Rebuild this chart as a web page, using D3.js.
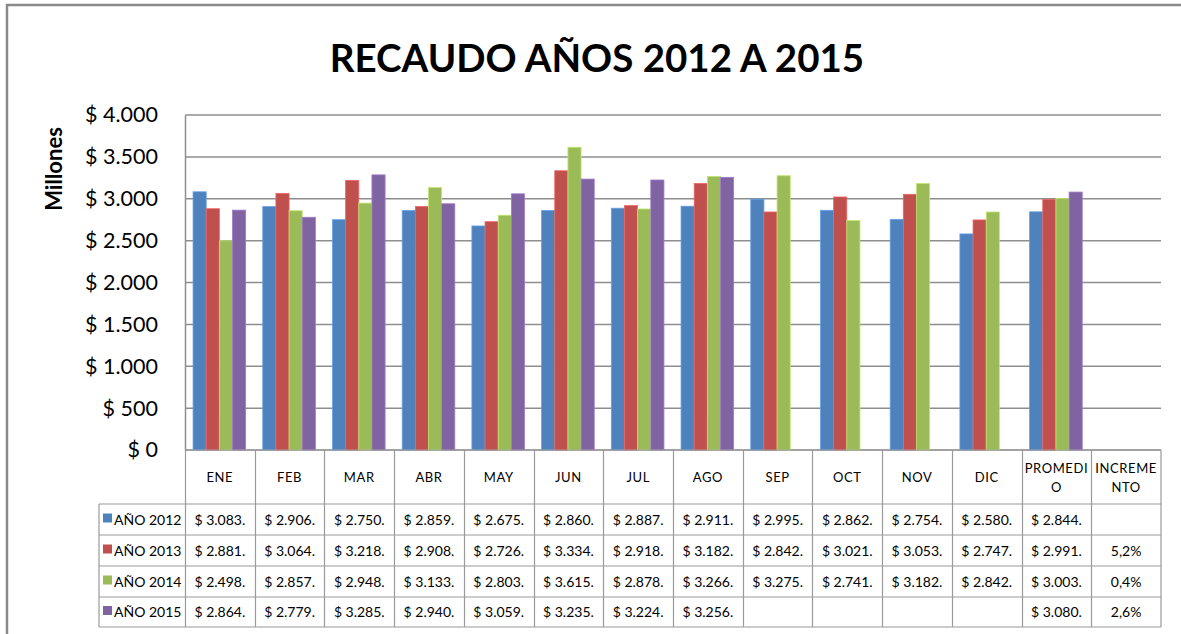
<!DOCTYPE html>
<html>
<head>
<meta charset="utf-8">
<script src="https://cdn.jsdelivr.net/npm/d3@7"></script>
<style>
  body { margin: 0; background: #fff; }
  text { font-family: Lato, 'Open Sans', sans-serif; fill: #000; }
</style>
</head>
<body>
<script>
// chart data (millones)
var categories = ['ENE', 'FEB', 'MAR', 'ABR', 'MAY', 'JUN', 'JUL', 'AGO', 'SEP', 'OCT', 'NOV', 'DIC', 'PROMEDIO', 'INCREMENTO'];
var headerLines = [['ENE'], ['FEB'], ['MAR'], ['ABR'], ['MAY'], ['JUN'], ['JUL'], ['AGO'], ['SEP'], ['OCT'], ['NOV'], ['DIC'], ['PROMEDI', 'O'], ['INCREME', 'NTO']];
var seriesNames = ['AÑO 2012', 'AÑO 2013', 'AÑO 2014', 'AÑO 2015'];
var colors = ['#4f81bd', '#c0504d', '#9bbb59', '#8064a2'];
var y2012 = [3083, 2906, 2750, 2859, 2675, 2860, 2887, 2911, 2995, 2862, 2754, 2580, 2844, null];
var y2013 = [2881, 3064, 3218, 2908, 2726, 3334, 2918, 3182, 2842, 3021, 3053, 2747, 2991, null];
var y2014 = [2498, 2857, 2948, 3133, 2803, 3615, 2878, 3266, 3275, 2741, 3182, 2842, 3003, null];
var y2015 = [2864, 2779, 3285, 2940, 3059, 3235, 3224, 3256, null, null, null, null, 3080, null];
var incremento = ['', '5,2%', '0,4%', '2,6%'];
var yTicks = [0, 500, 1000, 1500, 2000, 2500, 3000, 3500, 4000];

var series = [y2012, y2013, y2014, y2015];

var W = 1181, H = 634;
var svg = d3.select('body').append('svg').attr('width', W).attr('height', H);

// outer frame
svg.append('rect')
  .attr('x', 7).attr('y', 5)
  .attr('width', 1200).attr('height', 700)
  .attr('fill', '#fff')
  .attr('stroke', '#8a8a8a')
  .attr('stroke-width', 2.5);

var plotL = 185, plotR = 1161, plotT = 115, plotB = 450;

var x = d3.scaleBand().domain(categories).range([plotL, plotR]);
var xs = d3.scaleBand().domain(d3.range(4)).range([0, x.bandwidth()]).paddingOuter(0.65);
var y = d3.scaleLinear().domain([0, 4000]).range([plotB, plotT]);

var loc = d3.formatLocale({ decimal: ',', thousands: '.', grouping: [3], currency: ['$ ', ''] });
var fmt = loc.format('$,.0f');

// gridlines
svg.append('g')
  .selectAll('line')
  .data(yTicks)
  .enter()
  .append('line')
  .attr('x1', plotL).attr('x2', plotR)
  .attr('y1', function (d) { return y(d); })
  .attr('y2', function (d) { return y(d); })
  .attr('stroke', '#8e8e8e')
  .attr('stroke-width', 1.5);

// y axis
var yAxis = svg.append('g')
  .attr('transform', 'translate(' + plotL + ',0)')
  .call(d3.axisLeft(y).tickValues(yTicks).tickSize(0).tickPadding(27).tickFormat(fmt));
yAxis.select('.domain').attr('stroke', '#8e8e8e').attr('stroke-width', 1.5);
yAxis.selectAll('text')
  .style('font-family', 'Lato, sans-serif')
  .style('font-size', '21.5px')
  .attr('fill', '#000');

svg.append('text')
  .attr('transform', 'translate(62,169) rotate(-90)')
  .attr('text-anchor', 'middle')
  .style('font-size', '22px')
  .style('font-weight', 'bold')
  .text('Millones');

// title
svg.append('text')
  .attr('x', 597).attr('y', 72)
  .attr('text-anchor', 'middle')
  .style('font-size', '38.5px')
  .style('font-weight', 'bold')
  .text('RECAUDO AÑOS 2012 A 2015');

// bars
series.forEach(function (vals, si) {
  svg.append('g')
    .selectAll('rect')
    .data(categories.map(function (c, i) { return { c: c, v: vals[i] }; })
      .filter(function (d) { return d.v != null; }))
    .enter()
    .append('rect')
    .attr('x', function (d) { return x(d.c) + xs(si) - 0.5; })
    .attr('width', xs.bandwidth())
    .attr('y', function (d) { return y(d.v); })
    .attr('height', function (d) { return plotB - y(d.v); })
    .attr('fill', colors[si])
    .attr('stroke', d3.color(colors[si]).brighter(0.6))
    .attr('stroke-width', 0.8);
});

// data table
var rowH = [54, 31, 31, 31, 30];
var rowY = [plotB];
rowH.forEach(function (h, i) { rowY.push(rowY[i] + h); });
var legendLeft = 99;
var lineColor = '#9a9a9a';
var tbl = svg.append('g');

// horizontal lines
tbl.append('line').attr('x1', plotL).attr('x2', plotR).attr('y1', rowY[0]).attr('y2', rowY[0])
  .attr('stroke', lineColor);
for (var r = 1; r < rowY.length; r++) {
  tbl.append('line').attr('x1', legendLeft).attr('x2', plotR).attr('y1', rowY[r]).attr('y2', rowY[r])
    .attr('stroke', lineColor).attr('stroke-width', 1.2);
}
// vertical lines
tbl.append('line').attr('x1', legendLeft).attr('x2', legendLeft).attr('y1', rowY[1]).attr('y2', rowY[5])
  .attr('stroke', lineColor).attr('stroke-width', 1.2);
categories.forEach(function (c) {
  tbl.append('line').attr('x1', Math.round(x(c)) + 0.5).attr('x2', Math.round(x(c)) + 0.5)
    .attr('y1', rowY[0]).attr('y2', rowY[5]).attr('stroke', lineColor).attr('stroke-width', 1.2);
});
tbl.append('line').attr('x1', plotR).attr('x2', plotR).attr('y1', rowY[0]).attr('y2', rowY[5])
  .attr('stroke', lineColor).attr('stroke-width', 1.2);

// header labels
categories.forEach(function (c, i) {
  var lines = headerLines[i];
  var cy = rowY[0] + rowH[0] / 2;
  lines.forEach(function (l, j) {
    tbl.append('text')
      .attr('x', x(c) + x.bandwidth() / 2)
      .attr('y', cy + 5 + (j - (lines.length - 1) / 2) * 19)
      .attr('text-anchor', 'middle')
      .style('font-size', '13px')
      .style('letter-spacing', '0.6px')
      .text(l);
  });
});

// rows
series.forEach(function (vals, si) {
  var cy = rowY[si + 1] + rowH[si + 1] / 2 + 5;
  tbl.append('rect')
    .attr('x', 103).attr('y', cy - 11)
    .attr('width', 9).attr('height', 9)
    .attr('fill', colors[si]);
  tbl.append('text')
    .attr('x', 114).attr('y', cy)
    .style('font-size', '14px')
    .text(seriesNames[si]);
  categories.forEach(function (c, i) {
    var txt = vals[i] != null ? fmt(vals[i]) + '.' : '';
    if (c === 'INCREMENTO') txt = incremento[si];
    tbl.append('text')
      .attr('x', x(c) + x.bandwidth() / 2)
      .attr('y', cy)
      .attr('text-anchor', 'middle')
      .style('font-size', '14px')
      .text(txt);
  });
});
</script>
</body>
</html>
